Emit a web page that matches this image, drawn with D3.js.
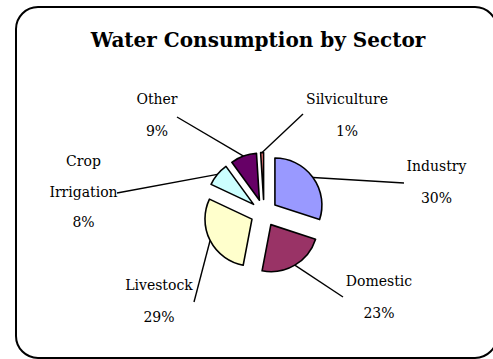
<!DOCTYPE html>
<html>
<head>
<meta charset="utf-8">
<script src="https://cdn.jsdelivr.net/npm/d3@7"></script>
<style>
  html, body { margin: 0; padding: 0; background: #fff; }
  svg text { font-family: "DejaVu Serif", serif; fill: #000; }
</style>
</head>
<body>
<svg id="chart" width="493" height="359"></svg>
<script>
// ── Data ───────────────────────────────────────────────────────────────────
const sectors = ['Industry', 'Domestic', 'Livestock', 'Crop Irrigation', 'Other', 'Silviculture'];
const shares  = [30, 23, 29, 8, 9, 1];
const colors  = ['#9999ff', '#993366', '#ffffcc', '#ccffff', '#660066', '#ff8080'];
const labelLines = [['Industry'], ['Domestic'], ['Livestock'], ['Crop', 'Irrigation'], ['Other'], ['Silviculture']];

// ── Layout (label boxes and leader ends, as Excel placed them) ─────────────
const labelX     = [436.5, 379, 159, 83.5, 157, 347];
const labelTop   = [171, 286, 290, 166, 104, 104];
const labelStep  = [32, 32, 32, 30.5, 32, 31.5];
const leaderEnd  = [[404, 183], [343, 297], [194, 302], [117, 193], [177, 117], [303, 114]];

const W = 493, H = 359;
const cx = 264, cy = 213, R = 47, explode = 13.5;

const svg = d3.select('#chart');

// frame
svg.append('rect')
  .attr('x', 16).attr('y', 7).attr('width', 481).attr('height', 351)
  .attr('rx', 22).attr('ry', 22)
  .attr('fill', '#fff').attr('stroke', '#000').attr('stroke-width', 2);

// title
svg.append('text')
  .attr('x', 258).attr('y', 47)
  .attr('text-anchor', 'middle')
  .attr('font-size', 20).attr('font-weight', 'bold')
  .text('Water Consumption by Sector');

// pie
const pie = d3.pie().sort(null).value(d => d.v);
const arc = d3.arc().innerRadius(0).outerRadius(R);
const slices = pie(sectors.map((s, i) => ({ name: s, v: shares[i], i })));

const midAngle = d => (d.startAngle + d.endAngle) / 2;
const offset = (d, r) => [Math.sin(midAngle(d)) * r, -Math.cos(midAngle(d)) * r];

const g = svg.append('g').attr('transform', `translate(${cx},${cy})`);

// leader lines
g.selectAll('line.leader').data(slices).join('line')
  .attr('class', 'leader')
  .attr('x1', d => offset(d, explode)[0] + offset(d, R)[0])
  .attr('y1', d => offset(d, explode)[1] + offset(d, R)[1])
  .attr('x2', d => leaderEnd[d.data.i][0] - cx)
  .attr('y2', d => leaderEnd[d.data.i][1] - cy)
  .attr('stroke', '#000').attr('stroke-width', 1.4);

// slices
g.selectAll('path.slice').data(slices).join('path')
  .attr('class', 'slice')
  .attr('transform', d => `translate(${offset(d, explode)})`)
  .attr('d', arc)
  .attr('fill', d => colors[d.data.i])
  .attr('stroke', '#000').attr('stroke-width', 1.6)
  .attr('stroke-linejoin', 'round');

// labels
const lab = svg.append('g').selectAll('text').data(slices).join('text')
  .attr('text-anchor', 'middle')
  .attr('font-size', 14);
lab.each(function(d) {
  const i = d.data.i;
  const lines = labelLines[i].concat([d3.format('.0%')(shares[i] / d3.sum(shares))]);
  d3.select(this).selectAll('tspan').data(lines).join('tspan')
    .attr('x', labelX[i])
    .attr('y', (t, k) => labelTop[i] + k * labelStep[i])
    .text(t => t);
});
</script>
</body>
</html>
